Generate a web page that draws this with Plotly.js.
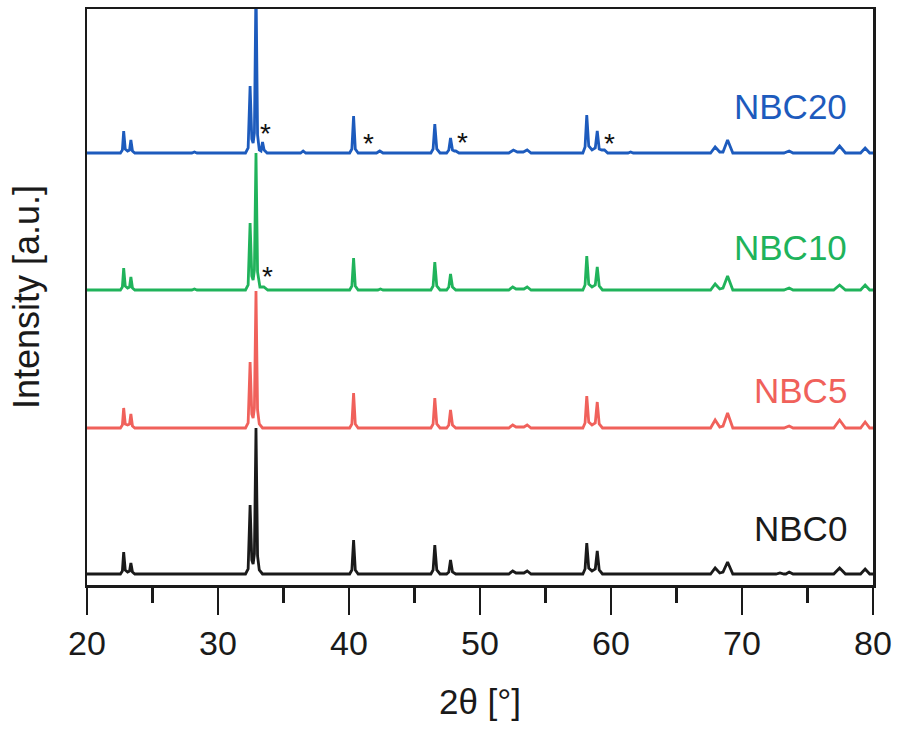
<!DOCTYPE html>
<html>
<head>
<meta charset="utf-8">
<script src="https://cdn.plot.ly/plotly-3.0.1.min.js"></script>
<style>html,body{margin:0;padding:0;background:#fff;}#chart{width:898px;height:729px;}</style>
</head>
<body>
<div id="chart"></div>
<script>
// Sample names
var sampleNames = ["NBC0", "NBC5", "NBC10", "NBC20"];

// 2θ (deg) and intensity (a.u., relative to each pattern's own baseline)
var nbc0_2theta = [20, 22.55,22.7,22.8,22.92,23.1,23.25,23.35,23.47,23.65, 32.1,32.3,32.45,32.58,32.68,32.78,32.9,33.02,33.15,33.4, 40.05,40.22,40.35,40.48,40.7, 46.25,46.42,46.55,46.7,46.95, 47.45,47.62,47.75,47.9,48.15, 52.2,52.5,52.75,53.35,53.6,53.9, 57.85,58.02,58.15,58.3,58.55,58.8,58.95,59.1,59.35, 67.6,67.95,68.3,68.55,68.9,69.3, 72.6,72.9,73.2,73.35,73.6,73.9, 77.0,77.45,77.9, 79.05,79.4,79.75, 80];
var nbc0_int    = [0, 0,3,22,4,2,3,11,2,0, 0,5,69,14,10,20,146,18,4,0, 0,4,34,4,0, 0,4,29,4,0, 0,2,14,2,0, 0,3,1,1,3,0, 0,5,31,6,3,5,23,4,0, 0,6,1,2,12,0, 0,1,0,0,2,0, 0,6,0, 0,5,0, 0];

var nbc5_2theta = [20, 22.55,22.7,22.8,22.92,23.1,23.25,23.35,23.47,23.65, 32.1,32.3,32.45,32.58,32.68,32.78,32.9,33.02,33.15,33.4, 40.05,40.22,40.35,40.48,40.7, 46.25,46.42,46.55,46.7,46.95, 47.45,47.62,47.75,47.9,48.15, 52.2,52.5,52.75,53.35,53.6,53.9, 57.85,58.02,58.15,58.3,58.55,58.8,58.95,59.1,59.35, 67.6,67.95,68.3,68.55,68.9,69.3, 73.2,73.6,73.9, 77.0,77.45,77.9, 79.05,79.4,79.75, 80];
var nbc5_int    = [0, 0,3,20,4,3,4,14,2,0, 0,5,66,14,10,20,137,18,4,0, 0,4,35,4,0, 0,4,30,4,0, 0,3,18,3,0, 0,3,1,1,3,0, 0,5,32,6,3,5,26,4,0, 0,8,1,2,15,0, 0,2,0, 0,8,0, 0,6,0, 0];

var nbc10_2theta = [20, 22.55,22.7,22.8,22.92,23.1,23.25,23.35,23.47,23.65, 28.0,28.2,28.4, 32.1,32.3,32.45,32.58,32.68,32.78,32.9,33.02,33.2,33.5,33.8, 40.05,40.22,40.35,40.48,40.7, 42.2,42.4,42.6, 46.25,46.42,46.55,46.7,46.95, 47.45,47.62,47.75,47.9,48.15, 52.2,52.5,52.75,53.35,53.6,53.9, 57.85,58.02,58.15,58.3,58.55,58.8,58.95,59.1,59.35, 67.6,67.95,68.3,68.55,68.9,69.3, 73.2,73.6,73.9, 77.0,77.45,77.9, 79.05,79.4,79.75, 80];
var nbc10_int    = [0, 0,3,22,4,2,3,13,2,0, 0,1,0, 0,5,67,14,10,20,137,18,3,3,0, 0,4,32,4,0, 0,1,0, 0,4,28,4,0, 0,3,16,3,0, 0,3,1,1,3,0, 0,5,34,6,3,5,23,4,0, 0,6,1,2,14,0, 0,2,0, 0,5,0, 0,5,0, 0];

var nbc20_2theta = [20, 22.55,22.7,22.8,22.92,23.1,23.25,23.35,23.47,23.65, 28.0,28.2,28.4, 32.1,32.3,32.45,32.58,32.68,32.78,32.9,33.02,33.15,33.28,33.4,33.52,33.75, 36.3,36.5,36.7, 40.05,40.22,40.35,40.48,40.7, 42.1,42.35,42.6, 46.25,46.42,46.55,46.7,46.95, 47.45,47.62,47.75,47.9,48.05,48.15,48.4, 52.2,52.55,52.85,53.3,53.6,53.9, 57.85,58.02,58.15,58.3,58.55,58.8,58.95,59.1,59.3,59.5,59.75, 61.3,61.5,61.7, 67.6,67.95,68.3,68.55,68.9,69.3, 73.2,73.6,73.9, 77.0,77.45,77.9, 79.05,79.4,79.75, 80];
var nbc20_int    = [0, 0,3,22,4,2,3,13,2,0, 0,1,0, 0,5,67,14,10,20,170,18,3,2,11,3,0, 0,2,0, 0,4,37,4,0, 0,2,0, 0,4,29,4,0, 0,3,15,3,2,2,0, 0,3,1,1,3,0, 0,6,38,7,3,5,22,4,3,3,0, 0,1,0, 0,6,1,1,13,0, 0,2,0, 0,7,0, 0,5,0, 0];

// Impurity-peak marks (*): 2θ and height above the pattern baseline
var star20_2theta = [33.62, 41.45, 48.7, 59.85];
var star20_int    = [20, 10, 11, 10];
var star10_2theta = [33.75];
var star10_int    = [14];

var colors = ["#1a1a1a", "#f0615b", "#20b35b", "#1d5bbd"];
var offsets = [11, 157, 295, 432];

var xs = [nbc0_2theta, nbc5_2theta, nbc10_2theta, nbc20_2theta];
var ys = [nbc0_int, nbc5_int, nbc10_int, nbc20_int];

var traces = [];
for (var i = 0; i < 4; i++) {
  traces.push({
    x: xs[i],
    y: ys[i].map(function (v) { return v + offsets[i]; }),
    type: "scatter",
    mode: "lines",
    line: {color: colors[i], width: 2.8},
    name: sampleNames[i],
    hoverinfo: "skip"
  });
}

var FONT = "Liberation Sans, Arial, sans-serif";
var annotations = [];
var labelY = [46, 38, 43, 47];
for (var j = 0; j < 4; j++) {
  annotations.push({
    x: 78.15, y: offsets[j] + labelY[j], xref: "x", yref: "y",
    text: sampleNames[j], showarrow: false, xanchor: "right", yanchor: "middle",
    font: {family: FONT, size: 35, color: colors[j]}
  });
}
star20_2theta.forEach(function (xv, k) {
  annotations.push({x: xv, y: star20_int[k] + offsets[3], xref: "x", yref: "y", text: "*", showarrow: false,
    yanchor: "middle", font: {family: FONT, size: 28, color: "#111"}});
});
star10_2theta.forEach(function (xv, k) {
  annotations.push({x: xv, y: star10_int[k] + offsets[2], xref: "x", yref: "y", text: "*", showarrow: false,
    yanchor: "middle", font: {family: FONT, size: 28, color: "#111"}});
});

var layout = {
  width: 898, height: 729,
  margin: {l: 87, r: 25, t: 9, b: 144, pad: 0},
  paper_bgcolor: "#fff", plot_bgcolor: "#fff",
  showlegend: false,
  font: {family: FONT, color: "#1a1a1a"},
  xaxis: {
    range: [20, 80], dtick: 10, tick0: 20,
    ticks: "outside", ticklen: 27, tickwidth: 2.5, tickcolor: "#1a1a1a",
    minor: {dtick: 5, ticks: "outside", ticklen: 15, tickwidth: 2.5, tickcolor: "#1a1a1a", showgrid: false},
    showline: true, linewidth: 2.5, linecolor: "#1a1a1a", mirror: true,
    showgrid: false, zeroline: false,
    tickfont: {size: 34, color: "#1a1a1a"},
    title: {text: "2θ [°]", font: {size: 35, color: "#1a1a1a"}, standoff: 28}
  },
  yaxis: {
    range: [0, 576],
    showticklabels: false, ticks: "",
    showline: true, linewidth: 2.5, linecolor: "#1a1a1a", mirror: true,
    showgrid: false, zeroline: false,
    title: {text: "Intensity [a.u.]", font: {size: 36, color: "#1a1a1a"}, standoff: 34}
  },
  annotations: annotations
};

Plotly.newPlot("chart", traces, layout, {displayModeBar: false, staticPlot: true});
</script>
</body>
</html>
